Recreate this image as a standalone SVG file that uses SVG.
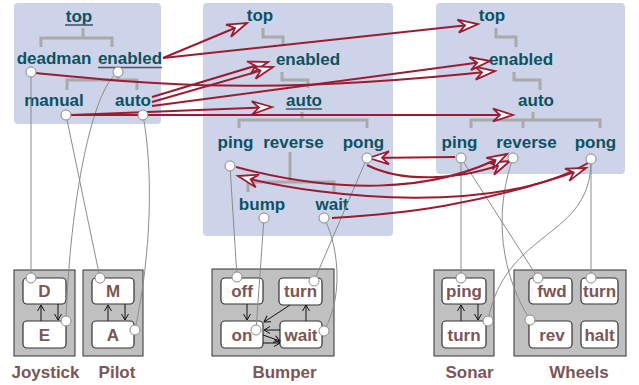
<svg xmlns="http://www.w3.org/2000/svg" width="639" height="385" viewBox="0 0 639 385">
  <style>
    .panel { fill: #cdd3e8; }
    .tree { fill: none; stroke: #aaaaaa; stroke-width: 3; }
    .st { font-family: "Liberation Sans", Arial, sans-serif; font-weight: bold; font-size: 17px; fill: #0d5263; text-anchor: middle; }
    .ul { stroke: #4d5566; stroke-width: 1.6; }
    .dev { fill: #c0c0c0; stroke: #333333; stroke-width: 1; }
    .box { fill: #ffffff; stroke: #333333; stroke-width: 1.2; }
    .bl { font-family: "Liberation Sans", Arial, sans-serif; font-weight: bold; font-size: 17px; fill: #7a5656; text-anchor: middle; }
    .map { fill: none; stroke: #9b1c31; stroke-width: 2; marker-end: url(#open); }
    .wire { fill: none; stroke: #8c8c8c; stroke-width: 1; }
    .tr { fill: none; stroke: #111111; stroke-width: 1; marker-end: url(#vee); }
    .port { fill: #ffffff; stroke: #8c8c8c; stroke-width: 1; }
  </style>
  <defs>
    <marker id="open" markerUnits="userSpaceOnUse" markerWidth="26" markerHeight="16" viewBox="-22 -8 26 16" refX="0" refY="0" orient="auto" overflow="visible">
      <path d="M-20,-6.5 L0,0 L-20,6.5 L-13,0 Z" fill="#ffffff" stroke="#9b1c31" stroke-width="1.8" stroke-linejoin="miter"/>
    </marker>
    <marker id="vee" markerUnits="userSpaceOnUse" markerWidth="10" markerHeight="10" viewBox="-8 -5 10 10" refX="0" refY="0" orient="auto" overflow="visible">
      <path d="M-6,-3.5 L0,0 L-6,3.5" fill="none" stroke="#111111" stroke-width="1"/>
    </marker>
  </defs>

  <!-- controller statechart -->
  <g id="control">
    <rect class="panel" x="14" y="3" width="147" height="121" rx="4"/>
    <path class="tree" d="M83,28 V38 M41,47 V38 H112 V47 M118,67 V80 M67,90 V80 H137 V90"/>
    <text class="st" x="79" y="22">top</text>
    <line class="ul" x1="65" y1="25" x2="93" y2="25"/>
    <text class="st" x="54" y="64">deadman</text>
    <text class="st" x="130" y="64">enabled</text>
    <line class="ul" x1="98" y1="67.5" x2="162" y2="67.5"/>
    <text class="st" x="54" y="106">manual</text>
    <text class="st" x="133" y="106">auto</text>
  </g>

  <!-- bumper statechart -->
  <g id="bumperChart">
    <rect class="panel" x="203" y="3" width="190" height="233" rx="4"/>
    <path class="tree" d="M263,28 V37 H283 V45 M282,72 V80 H308 V88 M302,112 V120 M239,128 V120 H367 V128 M290,152 V182 M248,192 V182 H334 V192"/>
    <text class="st" x="260" y="21">top</text>
    <text class="st" x="308" y="65">enabled</text>
    <text class="st" x="304" y="106">auto</text>
    <line class="ul" x1="286" y1="109" x2="322" y2="109"/>
    <text class="st" x="235.5" y="148">ping</text>
    <text class="st" x="293.5" y="148">reverse</text>
    <text class="st" x="363.5" y="148">pong</text>
    <text class="st" x="262" y="210">bump</text>
    <text class="st" x="332" y="210">wait</text>
  </g>

  <!-- sonar / wheels statechart -->
  <g id="driveChart">
    <rect class="panel" x="436" y="3" width="189" height="171" rx="4"/>
    <path class="tree" d="M496,28 V37 H516 V47 M514,72 V80 H540 V90 M533,112 V120 M471,128 V120 H600 V128 M523,120 V128"/>
    <text class="st" x="492" y="21">top</text>
    <text class="st" x="521" y="65">enabled</text>
    <text class="st" x="536" y="106">auto</text>
    <text class="st" x="459.5" y="148">ping</text>
    <text class="st" x="526.5" y="148">reverse</text>
    <text class="st" x="595.5" y="148">pong</text>
  </g>

  <!-- devices -->
  <g id="joystick">
    <rect class="dev" x="14" y="270" width="61" height="86"/>
    <rect class="box" x="23" y="278" width="43" height="26" rx="4"/>
    <rect class="box" x="23" y="321" width="43" height="27" rx="4"/>
    <text class="bl" x="44.5" y="297">D</text>
    <text class="bl" x="44.5" y="341">E</text>
    <text class="bl" x="45.5" y="378">Joystick</text>
  </g>
  <g id="pilot">
    <rect class="dev" x="83" y="270" width="60" height="86"/>
    <rect class="box" x="92" y="278" width="42" height="26" rx="4"/>
    <rect class="box" x="92" y="321" width="42" height="27" rx="4"/>
    <text class="bl" x="113" y="297">M</text>
    <text class="bl" x="113" y="341">A</text>
    <text class="bl" x="117" y="378">Pilot</text>
  </g>
  <g id="bumper">
    <rect class="dev" x="212" y="269" width="122" height="87"/>
    <rect class="box" x="221" y="278" width="42" height="26" rx="4"/>
    <rect class="box" x="279" y="278" width="43" height="27" rx="4"/>
    <rect class="box" x="221" y="321" width="42" height="27" rx="4"/>
    <rect class="box" x="280" y="321" width="42" height="27" rx="4"/>
    <text class="bl" x="242" y="297">off</text>
    <text class="bl" x="300.5" y="297">turn</text>
    <text class="bl" x="242" y="341">on</text>
    <text class="bl" x="301" y="341">wait</text>
    <text class="bl" x="284.5" y="378">Bumper</text>
  </g>
  <g id="sonar">
    <rect class="dev" x="434" y="270" width="60" height="86"/>
    <rect class="box" x="442" y="278" width="44" height="26" rx="4"/>
    <rect class="box" x="442" y="321" width="44" height="27" rx="4"/>
    <text class="bl" x="464" y="297">ping</text>
    <text class="bl" x="464" y="341">turn</text>
    <text class="bl" x="469.5" y="378">Sonar</text>
  </g>
  <g id="wheels">
    <rect class="dev" x="514" y="270" width="112" height="86"/>
    <rect class="box" x="529" y="278" width="43" height="26" rx="4"/>
    <rect class="box" x="581" y="278" width="37" height="26" rx="4"/>
    <rect class="box" x="529" y="321" width="43" height="27" rx="4"/>
    <rect class="box" x="581" y="321" width="37" height="27" rx="4"/>
    <text class="bl" x="552" y="297">fwd</text>
    <text class="bl" x="599.5" y="297">turn</text>
    <text class="bl" x="552" y="341">rev</text>
    <text class="bl" x="599.5" y="341">halt</text>
    <text class="bl" x="579" y="378">Wheels</text>
  </g>

  <g id="connectors">
    <!-- device transitions -->
    <path class="tr" d="M41,321 V305"/>
    <path class="tr" d="M58,304 V320"/>
    <path class="tr" d="M108,321 V305"/>
    <path class="tr" d="M125,304 V320"/>
    <path class="tr" d="M461,321 V305"/>
    <path class="tr" d="M478,304 V320"/>
    <path class="tr" d="M247,304 V320"/>
    <path class="tr" d="M290,305 L264,322"/>
    <path class="tr" d="M280,330 H264"/>
    <path class="tr" d="M263,335 L280,341"/>
    <path class="tr" d="M263,343 H280"/>
    <path class="tr" d="M306,321 V305"/>

    <!-- state-to-device wires -->
    <path class="wire" d="M31,72 V278"/>
    <path class="wire" d="M118,72 C92,90 70,200 66,321"/>
    <path class="wire" d="M66,115 L100,278"/>
    <path class="wire" d="M143,115 C153,170 152,250 135,330"/>
    <path class="wire" d="M230,166 L237,277"/>
    <path class="wire" d="M264,218 L256,330"/>
    <path class="wire" d="M367,158 L314,281"/>
    <path class="wire" d="M324,218 C336,240 346,292 324,331"/>
    <path class="wire" d="M461,158 V278"/>
    <path class="wire" d="M461,158 L538,278"/>
    <path class="wire" d="M513,158 C498,200 494,262 530,320"/>
    <path class="wire" d="M591,159 C592,240 505,228 488,321"/>
    <path class="wire" d="M591,159 V278"/>

    <!-- state mappings -->
    <path class="map" d="M163,58 L247,23"/>
    <path class="map" d="M163,58 L478,24"/>
    <path class="map" d="M36,73 C150,84 260,96 495,71"/>
    <path class="map" d="M152,97 L268,62"/>
    <path class="map" d="M152,102 L273,67"/>
    <path class="map" d="M152,106 L490,61"/>
    <path class="map" d="M71,115 L272,107"/>
    <path class="map" d="M71,115 L513,115"/>
    <path class="map" d="M455,157 L369,158"/>
    <path class="map" d="M367,165 C400,182 460,182 510,161"/>
    <path class="map" d="M236,167 C330,192 430,196 507,154"/>
    <path class="map" d="M588,163 C500,214 330,200 238,176"/>
    <path class="map" d="M332,218 C400,214 480,206 586,168"/>
  </g>

  <g id="ports">
    <circle class="port" cx="31" cy="72" r="5"/>
    <circle class="port" cx="118" cy="72" r="5"/>
    <circle class="port" cx="66" cy="115" r="5"/>
    <circle class="port" cx="143" cy="115" r="5"/>
    <circle class="port" cx="230" cy="166" r="5"/>
    <circle class="port" cx="367" cy="158" r="5"/>
    <circle class="port" cx="264" cy="218" r="5"/>
    <circle class="port" cx="324" cy="218" r="5"/>
    <circle class="port" cx="461" cy="158" r="5"/>
    <circle class="port" cx="513" cy="158" r="5"/>
    <circle class="port" cx="591" cy="159" r="5"/>
    <circle class="port" cx="31" cy="278" r="5"/>
    <circle class="port" cx="66" cy="321" r="5"/>
    <circle class="port" cx="100" cy="278" r="5"/>
    <circle class="port" cx="135" cy="330" r="5"/>
    <circle class="port" cx="237" cy="277" r="5"/>
    <circle class="port" cx="256" cy="330" r="5"/>
    <circle class="port" cx="314" cy="281" r="5"/>
    <circle class="port" cx="324" cy="331" r="5"/>
    <circle class="port" cx="461" cy="278" r="5"/>
    <circle class="port" cx="488" cy="321" r="5"/>
    <circle class="port" cx="538" cy="278" r="5"/>
    <circle class="port" cx="591" cy="278" r="5"/>
    <circle class="port" cx="530" cy="320" r="5"/>
  </g>
</svg>
